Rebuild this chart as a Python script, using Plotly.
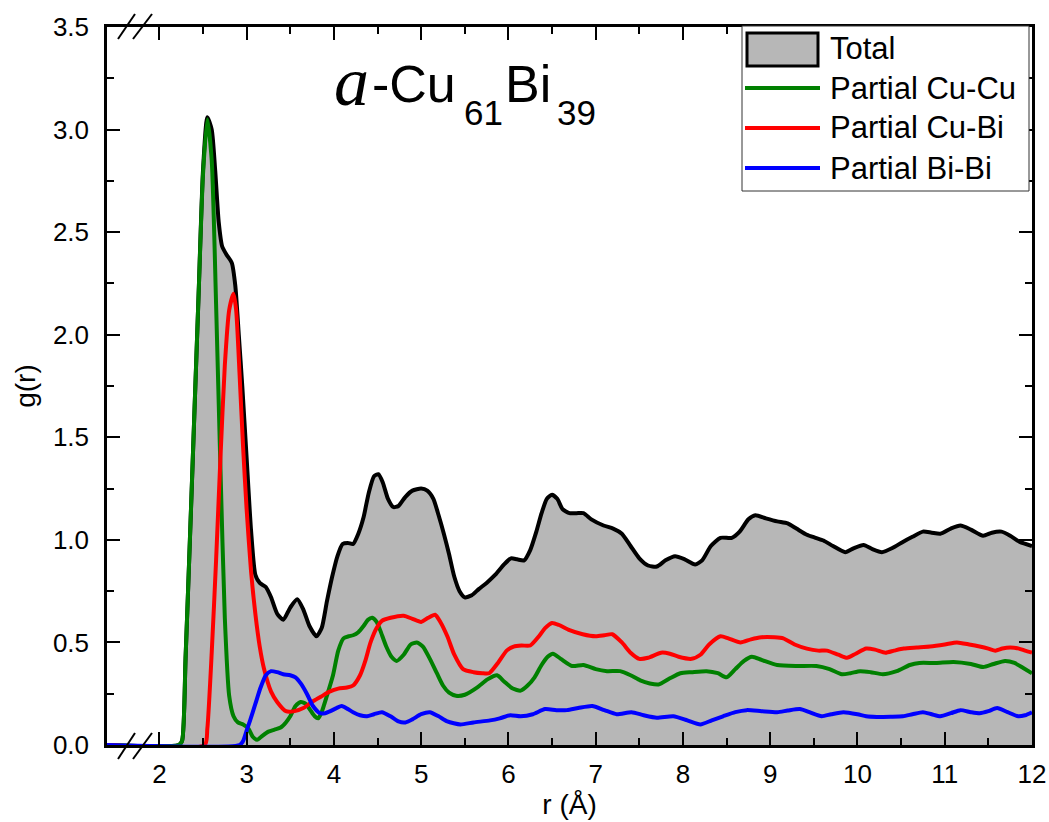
import plotly.graph_objects as go

# ---------------- data ----------------
total = [(1.4, 0), (2.22, 0), (2.26, 0.02), (2.3, 0.42), (2.35, 1.0), (2.4, 1.6), (2.45, 2.2), (2.5, 2.8),
         (2.55, 3.06), (2.6, 3.0), (2.64, 2.8), (2.68, 2.55), (2.72, 2.43), (2.77, 2.39), (2.83, 2.35),
         (2.87, 2.24), (2.91, 2.0), (2.95, 1.75), (3.0, 1.4), (3.05, 1.05), (3.1, 0.83), (3.15, 0.79),
         (3.22, 0.77), (3.28, 0.72), (3.35, 0.64), (3.42, 0.61), (3.5, 0.67), (3.58, 0.71), (3.65, 0.66),
         (3.72, 0.58), (3.8, 0.53), (3.86, 0.57), (3.92, 0.7), (3.98, 0.82), (4.04, 0.92), (4.1, 0.98),
         (4.16, 0.985), (4.22, 0.98), (4.28, 1.03), (4.34, 1.11), (4.4, 1.23), (4.46, 1.31), (4.51, 1.32),
         (4.56, 1.28), (4.62, 1.2), (4.68, 1.16), (4.74, 1.165), (4.82, 1.21), (4.9, 1.24), (5.0, 1.25),
         (5.07, 1.24), (5.14, 1.2), (5.2, 1.12), (5.26, 1.03), (5.32, 0.93), (5.38, 0.82), (5.44, 0.75),
         (5.5, 0.72), (5.58, 0.73), (5.66, 0.76), (5.75, 0.79), (5.85, 0.83), (5.95, 0.88), (6.03, 0.91),
         (6.1, 0.905), (6.18, 0.9), (6.25, 0.95), (6.32, 1.04), (6.38, 1.13), (6.44, 1.2), (6.5, 1.22),
         (6.56, 1.2), (6.62, 1.15), (6.7, 1.13), (6.78, 1.13), (6.86, 1.13), (6.95, 1.1), (7.09, 1.07),
         (7.2, 1.055), (7.3, 1.03), (7.4, 0.97), (7.5, 0.91), (7.6, 0.875), (7.7, 0.87), (7.8, 0.9),
         (7.91, 0.92), (8.02, 0.905), (8.14, 0.88), (8.22, 0.9), (8.32, 0.97), (8.43, 1.01), (8.56, 1.01),
         (8.65, 1.04), (8.75, 1.1), (8.83, 1.12), (8.95, 1.105), (9.08, 1.09), (9.2, 1.08), (9.3, 1.055),
         (9.42, 1.025), (9.52, 1.01), (9.61, 0.997), (9.72, 0.97), (9.86, 0.94), (9.96, 0.96),
         (10.07, 0.975), (10.17, 0.955), (10.28, 0.94), (10.4, 0.96), (10.52, 0.99), (10.63, 1.015),
         (10.75, 1.04), (10.85, 1.035), (10.95, 1.03), (11.07, 1.055), (11.18, 1.07), (11.3, 1.05),
         (11.44, 1.02), (11.54, 1.035), (11.65, 1.04), (11.75, 1.02), (11.86, 0.99), (12.0, 0.97)]

cu_cu = [(1.4, 0), (2.22, 0), (2.26, 0.02), (2.3, 0.42), (2.35, 1.0), (2.4, 1.6), (2.45, 2.2), (2.5, 2.78),
         (2.55, 3.05), (2.6, 2.85), (2.65, 2.15), (2.7, 1.35), (2.75, 0.62), (2.8, 0.24), (2.85, 0.14),
         (2.9, 0.11), (2.96, 0.10), (3.02, 0.08), (3.07, 0.04), (3.12, 0.025), (3.18, 0.045), (3.25, 0.065),
         (3.32, 0.075), (3.39, 0.085), (3.45, 0.11), (3.5, 0.14), (3.56, 0.19), (3.62, 0.21), (3.68, 0.2),
         (3.73, 0.17), (3.78, 0.14), (3.82, 0.13), (3.86, 0.16), (3.92, 0.24), (3.99, 0.34), (4.05, 0.46),
         (4.11, 0.52), (4.17, 0.53), (4.22, 0.535), (4.28, 0.55), (4.34, 0.58), (4.39, 0.61), (4.44, 0.62),
         (4.49, 0.6), (4.53, 0.56), (4.6, 0.48), (4.66, 0.43), (4.72, 0.41), (4.8, 0.44), (4.88, 0.49),
         (4.95, 0.5), (5.02, 0.48), (5.1, 0.42), (5.18, 0.35), (5.25, 0.29), (5.32, 0.255), (5.4, 0.24),
         (5.5, 0.245), (5.64, 0.28), (5.76, 0.32), (5.87, 0.34), (5.95, 0.31), (6.05, 0.275), (6.14, 0.265),
         (6.22, 0.29), (6.3, 0.33), (6.38, 0.39), (6.45, 0.43), (6.51, 0.445), (6.6, 0.42), (6.73, 0.385),
         (6.86, 0.39), (7.0, 0.37), (7.13, 0.36), (7.28, 0.36), (7.4, 0.34), (7.51, 0.315), (7.62, 0.3),
         (7.72, 0.295), (7.85, 0.325), (7.97, 0.35), (8.1, 0.355), (8.27, 0.36), (8.4, 0.35), (8.5, 0.33),
         (8.6, 0.37), (8.7, 0.41), (8.79, 0.43), (8.9, 0.415), (9.08, 0.39), (9.3, 0.385), (9.53, 0.385),
         (9.68, 0.37), (9.82, 0.345), (9.92, 0.35), (10.03, 0.36), (10.15, 0.355), (10.29, 0.345),
         (10.45, 0.36), (10.6, 0.39), (10.71, 0.4), (10.9, 0.4), (11.1, 0.405), (11.3, 0.395), (11.44, 0.38),
         (11.56, 0.395), (11.69, 0.41), (11.8, 0.4), (11.9, 0.375), (12.0, 0.35)]

cu_bi = [(1.4, 0), (2.52, 0), (2.55, 0.08), (2.6, 0.45), (2.65, 0.9), (2.7, 1.4), (2.75, 1.85), (2.8, 2.12),
         (2.85, 2.2), (2.88, 2.12), (2.92, 1.8), (2.96, 1.45), (3.0, 1.15), (3.05, 0.85), (3.1, 0.64),
         (3.15, 0.48), (3.2, 0.37), (3.28, 0.26), (3.35, 0.21), (3.45, 0.165), (3.55, 0.165), (3.65, 0.18),
         (3.75, 0.21), (3.85, 0.235), (3.95, 0.26), (4.05, 0.275), (4.15, 0.28), (4.22, 0.29), (4.3, 0.34),
         (4.36, 0.41), (4.42, 0.5), (4.49, 0.57), (4.55, 0.605), (4.65, 0.62), (4.8, 0.63), (4.9, 0.615),
         (5.0, 0.6), (5.08, 0.62), (5.16, 0.635), (5.22, 0.6), (5.3, 0.53), (5.38, 0.44), (5.48, 0.37),
         (5.6, 0.355), (5.7, 0.35), (5.78, 0.35), (5.88, 0.4), (5.98, 0.46), (6.06, 0.48), (6.15, 0.485),
         (6.25, 0.485), (6.35, 0.53), (6.42, 0.57), (6.5, 0.595), (6.58, 0.585), (6.7, 0.56), (6.85, 0.54),
         (7.0, 0.53), (7.1, 0.535), (7.19, 0.54), (7.3, 0.5), (7.4, 0.45), (7.5, 0.42), (7.6, 0.425),
         (7.75, 0.45), (7.85, 0.445), (7.95, 0.43), (8.1, 0.42), (8.2, 0.44), (8.3, 0.49), (8.43, 0.53),
         (8.52, 0.52), (8.66, 0.50), (8.78, 0.515), (8.9, 0.525), (9.05, 0.525), (9.15, 0.52), (9.28, 0.49),
         (9.42, 0.47), (9.55, 0.46), (9.65, 0.46), (9.78, 0.44), (9.88, 0.425), (9.98, 0.445), (10.1, 0.47),
         (10.2, 0.465), (10.32, 0.45), (10.42, 0.46), (10.53, 0.47), (10.68, 0.475), (10.83, 0.48),
         (11.0, 0.49), (11.14, 0.5), (11.28, 0.49), (11.4, 0.48), (11.5, 0.47), (11.58, 0.46), (11.66, 0.47),
         (11.75, 0.475), (11.85, 0.47), (11.92, 0.46), (12.0, 0.45)]

bi_bi = [(1.4, 0), (2.92, 0), (2.96, 0.02), (3.0, 0.07), (3.04, 0.12), (3.1, 0.2), (3.16, 0.28), (3.22, 0.34),
         (3.28, 0.36), (3.35, 0.355), (3.42, 0.345), (3.5, 0.34), (3.56, 0.33), (3.62, 0.3), (3.69, 0.25),
         (3.76, 0.19), (3.84, 0.155), (3.9, 0.155), (3.96, 0.165), (4.03, 0.18), (4.09, 0.19), (4.16, 0.175),
         (4.22, 0.16), (4.3, 0.145), (4.38, 0.14), (4.46, 0.15), (4.55, 0.16), (4.65, 0.14), (4.74, 0.115),
         (4.82, 0.11), (4.9, 0.125), (5.0, 0.15), (5.1, 0.16), (5.2, 0.14), (5.3, 0.115), (5.45, 0.1),
         (5.6, 0.11), (5.79, 0.12), (5.9, 0.13), (6.02, 0.145), (6.14, 0.14), (6.28, 0.15), (6.42, 0.175),
         (6.55, 0.17), (6.67, 0.17), (6.8, 0.18), (6.96, 0.19), (7.1, 0.17), (7.24, 0.15), (7.41, 0.16),
         (7.55, 0.145), (7.7, 0.133), (7.89, 0.14), (8.05, 0.12), (8.2, 0.1), (8.33, 0.12), (8.46, 0.14),
         (8.6, 0.16), (8.73, 0.17), (8.9, 0.165), (9.08, 0.16), (9.2, 0.168), (9.34, 0.175), (9.45, 0.16),
         (9.59, 0.14), (9.7, 0.15), (9.84, 0.16), (10.0, 0.15), (10.1, 0.14), (10.22, 0.137), (10.38, 0.138),
         (10.52, 0.14), (10.63, 0.15), (10.75, 0.16), (10.85, 0.15), (10.95, 0.14), (11.07, 0.155),
         (11.18, 0.17), (11.3, 0.16), (11.4, 0.155), (11.5, 0.165), (11.6, 0.18), (11.72, 0.16),
         (11.84, 0.14), (11.92, 0.145), (12.0, 0.16)]

x_ticks = [2, 3, 4, 5, 6, 7, 8, 9, 10, 11, 12]
x_minor = [2.5, 3.5, 4.5, 5.5, 6.5, 7.5, 8.5, 9.5, 10.5, 11.5]
y_ticks = [0.0, 0.5, 1.0, 1.5, 2.0, 2.5, 3.0, 3.5]
legend_names = ["Total", "Partial Cu-Cu", "Partial Cu-Bi", "Partial Bi-Bi"]
colors = ["#000000", "#008000", "#ff0000", "#0000ff"]
fill_grey = "#b7b7b7"

# ---------------- figure geometry ----------------
W, H = 1049, 822
L, R, T, B = 107, 17, 27, 77
PW, PH = W - L - R, H - T - B
FONT = "Liberation Sans, Arial, sans-serif"


def px(xp):
    return (xp - L) / PW


def py(yp):
    return (H - B - yp) / PH


fig = go.Figure()

r, g = zip(*total)
fig.add_trace(go.Scatter(x=r, y=g, mode="lines", fill="tozeroy", fillcolor=fill_grey,
                         line=dict(color=colors[0], width=4, shape="spline", smoothing=0.6),
                         name=legend_names[0], showlegend=False))
for series, name, col in zip([cu_cu, cu_bi, bi_bi], legend_names[1:], colors[1:]):
    r, g = zip(*series)
    fig.add_trace(go.Scatter(x=r, y=g, mode="lines",
                             line=dict(color=col, width=4, shape="spline", smoothing=0.6),
                             name=name, showlegend=False))

axis_common = dict(showline=True, linecolor="black", linewidth=2.5, mirror="ticks",
                   ticks="inside", ticklen=13, tickwidth=2, tickcolor="black",
                   showgrid=False, zeroline=False,
                   tickfont=dict(family=FONT, size=26, color="black"))

fig.update_xaxes(range=[1.4, 12], tickmode="array", tickvals=x_ticks,
                 ticktext=[str(v) for v in x_ticks],
                 minor=dict(tickmode="array", tickvals=x_minor, ticks="inside", ticklen=7,
                            tickwidth=2, tickcolor="black"),
                 title=dict(text="r (Å)", font=dict(family=FONT, size=28, color="black"), standoff=2),
                 ticklabelstandoff=4,
                 **axis_common)
fig.update_yaxes(range=[0, 3.5], tickmode="array", tickvals=y_ticks,
                 ticktext=[f"{v:.1f}" for v in y_ticks],
                 minor=dict(dtick=0.25, ticks="inside", ticklen=7, tickwidth=2, tickcolor="black"),
                 title=dict(text="g(r)", font=dict(family=FONT, size=28, color="black"), standoff=10),
                 ticklabelstandoff=10,
                 **axis_common)

shapes = []
# axis break marks
for y0, y1 in [(759, 733), (39, 14)]:
    for x0, x1 in [(118, 135), (133, 152)]:
        shapes.append(dict(type="line", xref="paper", yref="paper", x0=px(x0), x1=px(x1),
                           y0=py(y0), y1=py(y1), line=dict(color="black", width=2)))
# legend box
shapes.append(dict(type="rect", xref="paper", yref="paper", x0=px(742), x1=px(1029),
                   y0=py(191), y1=py(26), fillcolor="white", line=dict(color="#333333", width=1)))
shapes.append(dict(type="rect", xref="paper", yref="paper", x0=px(747), x1=px(818),
                   y0=py(66), y1=py(33), fillcolor=fill_grey, line=dict(color="black", width=3)))
rows = [48, 88, 128, 168]
for yy, col in zip(rows[1:], colors[1:]):
    shapes.append(dict(type="line", xref="paper", yref="paper", x0=px(745), x1=px(820),
                       y0=py(yy), y1=py(yy), line=dict(color=col, width=4)))

annotations = []
for yy, name in zip(rows, legend_names):
    annotations.append(dict(text=name, xref="paper", yref="paper", x=px(829), y=py(yy),
                            xanchor="left", yanchor="middle", showarrow=False, borderpad=0,
                            font=dict(family=FONT, size=31, color="black")))

# title  a-Cu61Bi39
title_parts = [
    ("<i>a</i>", "Liberation Serif, Times New Roman, serif", 70, 333, 82),
    ("-Cu", FONT, 52, 371, 84),
    ("61", FONT, 35, 463, 113),
    ("Bi", FONT, 52, 504, 84),
    ("39", FONT, 35, 556, 113),
]
for txt, fam, size, xl, yc in title_parts:
    annotations.append(dict(text=txt, xref="paper", yref="paper", x=px(xl), y=py(yc),
                            xanchor="left", yanchor="middle", showarrow=False, borderpad=0,
                            font=dict(family=fam, size=size, color="black")))

fig.update_layout(width=W, height=H, margin=dict(l=L, r=R, t=T, b=B, autoexpand=False),
                  paper_bgcolor="white", plot_bgcolor="white", showlegend=False,
                  shapes=shapes, annotations=annotations)

fig.write_html("out.html")
